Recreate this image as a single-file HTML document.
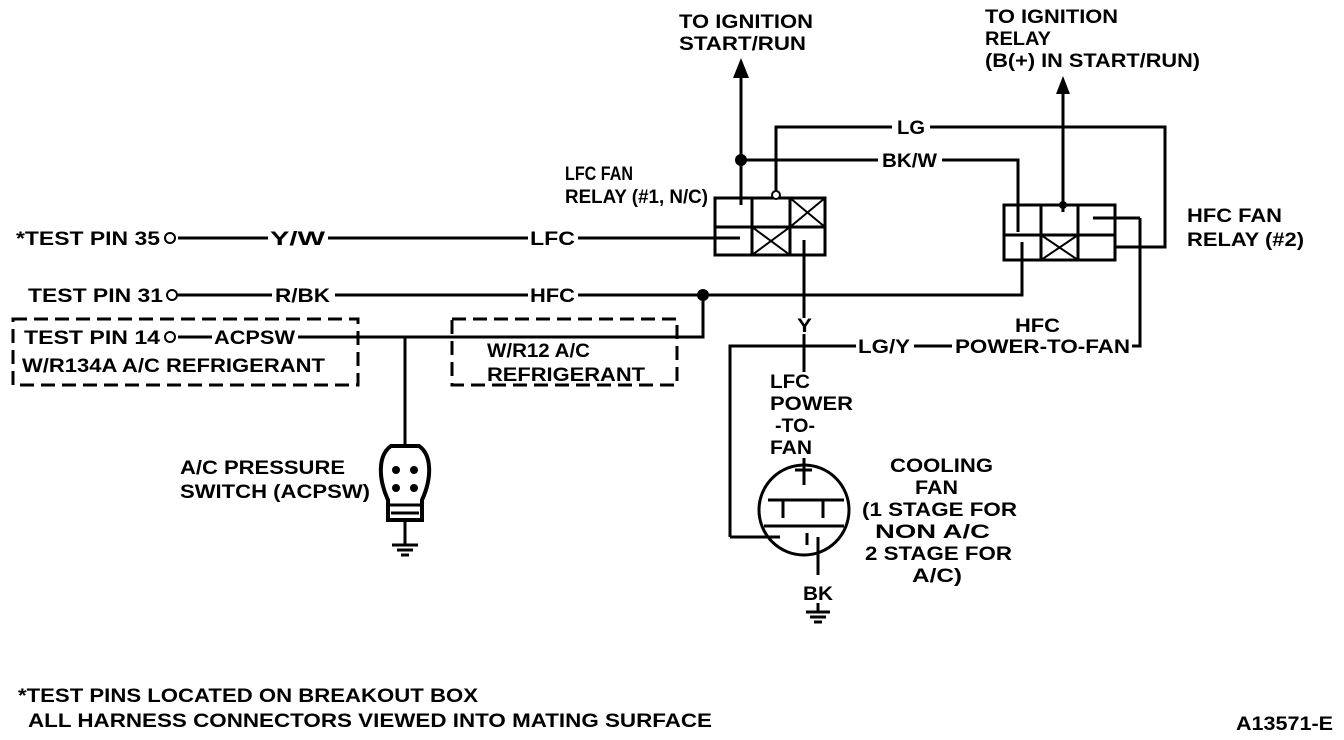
<!DOCTYPE html>
<html><head><meta charset="utf-8"><style>
html,body{margin:0;padding:0;background:#fff;}
svg{display:block;}
text{font-family:"Liberation Sans",sans-serif;font-weight:bold;font-size:19px;fill:#000;}
</style></head><body>
<svg width="1344" height="740" viewBox="0 0 1344 740" xmlns="http://www.w3.org/2000/svg">
<g fill="none" stroke="#000" stroke-width="3">
<line x1="741" y1="75" x2="741" y2="205"/>
<line x1="1063" y1="92" x2="1063" y2="212"/>
<polyline points="776,196 776,127 892,127"/>
<polyline points="930,127 1165,127 1165,247 1115,247"/>
<polyline points="741,160 878,160"/>
<polyline points="942,160 1018,160 1018,232"/>
<rect x="715" y="198" width="110" height="57"/>
<line x1="715" y1="227" x2="825" y2="227"/>
<line x1="752" y1="198" x2="752" y2="255"/>
<line x1="790" y1="198" x2="790" y2="255"/>
<line x1="790" y1="198" x2="825" y2="227" stroke-width="2"/>
<line x1="825" y1="198" x2="790" y2="227" stroke-width="2"/>
<line x1="752" y1="227" x2="790" y2="255" stroke-width="2"/>
<line x1="790" y1="227" x2="752" y2="255" stroke-width="2"/>
<rect x="1004" y="205" width="111" height="55"/>
<line x1="1004" y1="235" x2="1115" y2="235"/>
<line x1="1041" y1="205" x2="1041" y2="260"/>
<line x1="1078" y1="205" x2="1078" y2="260"/>
<line x1="1041" y1="235" x2="1078" y2="260" stroke-width="2"/>
<line x1="1078" y1="235" x2="1041" y2="260" stroke-width="2"/>
<line x1="1093" y1="218" x2="1140" y2="218"/>
<polyline points="1140,218 1140,346 1132,346"/>
<line x1="178" y1="238" x2="268" y2="238"/>
<line x1="328" y1="238" x2="528" y2="238"/>
<line x1="578" y1="238" x2="740" y2="238"/>
<line x1="178" y1="295" x2="272" y2="295"/>
<line x1="335" y1="295" x2="528" y2="295"/>
<polyline points="578,295 1022,295 1022,242"/>
<polyline points="703,295 703,337 298,337"/>
<line x1="178" y1="337" x2="212" y2="337"/>
<line x1="405" y1="337" x2="405" y2="448"/>
<line x1="804" y1="240" x2="804" y2="318"/>
<line x1="804" y1="334" x2="804" y2="372"/>
<polyline points="730,537 730,346 856,346"/>
<line x1="914" y1="346" x2="952" y2="346"/>
<rect x="13" y="319" width="345" height="66" stroke-dasharray="14,7"/>
<rect x="452" y="319" width="225" height="66" stroke-dasharray="14,7"/>
<circle cx="804" cy="510" r="45"/>
<line x1="804" y1="458" x2="804" y2="485"/>
<line x1="795" y1="470" x2="812" y2="470"/>
<polyline points="764,526 844,526"/>
<polyline points="768,500 844,500"/>
<line x1="783" y1="500" x2="783" y2="518"/>
<line x1="823" y1="500" x2="823" y2="518"/>
<line x1="730" y1="537" x2="780" y2="537"/>
<line x1="818" y1="537" x2="818" y2="575"/>
<line x1="807" y1="533" x2="807" y2="545"/>
<line x1="818" y1="603" x2="818" y2="612"/>
<line x1="806" y1="612" x2="830" y2="612"/>
<line x1="810" y1="617" x2="826" y2="617"/>
<line x1="814" y1="622" x2="822" y2="622"/>
<path d="M391,446 C378,455 378,478 388,500 L388,520 L422,520 L422,500 C432,478 432,455 419,446 Z" stroke-width="4"/>
<line x1="388" y1="505" x2="422" y2="505"/>
<line x1="391" y1="513" x2="419" y2="513"/>
<line x1="405" y1="520" x2="405" y2="545"/>
<line x1="392" y1="545" x2="418" y2="545"/>
<line x1="397" y1="550" x2="413" y2="550"/>
<line x1="401" y1="555" x2="409" y2="555"/>
</g>
<g fill="#000">
<circle cx="741" cy="160" r="6"/>
<circle cx="703" cy="295" r="6"/>
<circle cx="776" cy="195" r="4" fill="#fff" stroke="#000" stroke-width="2"/>
<circle cx="1063" cy="205" r="4"/>
<polygon points="741,58 733,78 749,78"/>
<polygon points="1063,76 1056,94 1070,94"/>
<circle cx="396" cy="470" r="4"/><circle cx="414" cy="470" r="4"/>
<circle cx="396" cy="488" r="4"/><circle cx="414" cy="488" r="4"/>
</g>
<g fill="#fff" stroke="#000" stroke-width="2">
<circle cx="170" cy="238" r="5"/><circle cx="172" cy="295" r="5"/><circle cx="170" cy="337" r="5"/>
</g>
<g lengthAdjust="spacingAndGlyphs">
<text x="679" y="28" textLength="134" lengthAdjust="spacingAndGlyphs">TO IGNITION</text>
<text x="679" y="50" textLength="127" lengthAdjust="spacingAndGlyphs">START/RUN</text>
<text x="985" y="23" textLength="133" lengthAdjust="spacingAndGlyphs">TO IGNITION</text>
<text x="985" y="45" textLength="66" lengthAdjust="spacingAndGlyphs">RELAY</text>
<text x="985" y="67" textLength="215" lengthAdjust="spacingAndGlyphs">(B(+) IN START/RUN)</text>
<text x="565" y="180" textLength="68" lengthAdjust="spacingAndGlyphs">LFC FAN</text>
<text x="565" y="203" textLength="143" lengthAdjust="spacingAndGlyphs">RELAY (#1, N/C)</text>
<text x="1187" y="222" textLength="95" lengthAdjust="spacingAndGlyphs">HFC FAN</text>
<text x="1187" y="246" textLength="117" lengthAdjust="spacingAndGlyphs">RELAY (#2)</text>
<text x="897" y="134" textLength="28" lengthAdjust="spacingAndGlyphs">LG</text>
<text x="882" y="167" textLength="55" lengthAdjust="spacingAndGlyphs">BK/W</text>
<text x="16" y="245" textLength="144" lengthAdjust="spacingAndGlyphs">*TEST PIN 35</text>
<text x="270" y="245" textLength="55" lengthAdjust="spacingAndGlyphs">Y/W</text>
<text x="530" y="245" textLength="45" lengthAdjust="spacingAndGlyphs">LFC</text>
<text x="28" y="302" textLength="135" lengthAdjust="spacingAndGlyphs">TEST PIN 31</text>
<text x="275" y="302" textLength="55" lengthAdjust="spacingAndGlyphs">R/BK</text>
<text x="530" y="302" textLength="45" lengthAdjust="spacingAndGlyphs">HFC</text>
<text x="24" y="344" textLength="136" lengthAdjust="spacingAndGlyphs">TEST PIN 14</text>
<text x="214" y="344" textLength="81" lengthAdjust="spacingAndGlyphs">ACPSW</text>
<text x="22" y="372" textLength="303" lengthAdjust="spacingAndGlyphs">W/R134A A/C REFRIGERANT</text>
<text x="487" y="357" textLength="103" lengthAdjust="spacingAndGlyphs">W/R12 A/C</text>
<text x="487" y="381" textLength="158" lengthAdjust="spacingAndGlyphs">REFRIGERANT</text>
<text x="797" y="332" textLength="15" lengthAdjust="spacingAndGlyphs">Y</text>
<text x="1015" y="332" textLength="45" lengthAdjust="spacingAndGlyphs">HFC</text>
<text x="858" y="353" textLength="52" lengthAdjust="spacingAndGlyphs">LG/Y</text>
<text x="955" y="353" textLength="175" lengthAdjust="spacingAndGlyphs">POWER-TO-FAN</text>
<text x="770" y="388" textLength="40" lengthAdjust="spacingAndGlyphs">LFC</text>
<text x="770" y="410" textLength="83" lengthAdjust="spacingAndGlyphs">POWER</text>
<text x="775" y="432" textLength="40" lengthAdjust="spacingAndGlyphs">-TO-</text>
<text x="770" y="454" textLength="42" lengthAdjust="spacingAndGlyphs">FAN</text>
<text x="890" y="472" textLength="103" lengthAdjust="spacingAndGlyphs">COOLING</text>
<text x="915" y="494" textLength="43" lengthAdjust="spacingAndGlyphs">FAN</text>
<text x="862" y="516" textLength="155" lengthAdjust="spacingAndGlyphs">(1 STAGE FOR</text>
<text x="875" y="538" textLength="115" lengthAdjust="spacingAndGlyphs">NON A/C</text>
<text x="865" y="560" textLength="147" lengthAdjust="spacingAndGlyphs">2 STAGE FOR</text>
<text x="912" y="582" textLength="50" lengthAdjust="spacingAndGlyphs">A/C)</text>
<text x="803" y="600" textLength="30" lengthAdjust="spacingAndGlyphs">BK</text>
<text x="180" y="474" textLength="165" lengthAdjust="spacingAndGlyphs">A/C PRESSURE</text>
<text x="180" y="498" textLength="190" lengthAdjust="spacingAndGlyphs">SWITCH (ACPSW)</text>
<text x="18" y="702" textLength="460" lengthAdjust="spacingAndGlyphs">*TEST PINS LOCATED ON BREAKOUT BOX</text>
<text x="28" y="727" textLength="684" lengthAdjust="spacingAndGlyphs">ALL HARNESS CONNECTORS VIEWED INTO MATING SURFACE</text>
<text x="1236" y="730" textLength="97" lengthAdjust="spacingAndGlyphs">A13571-E</text>
</g>
</svg>
</body></html>
